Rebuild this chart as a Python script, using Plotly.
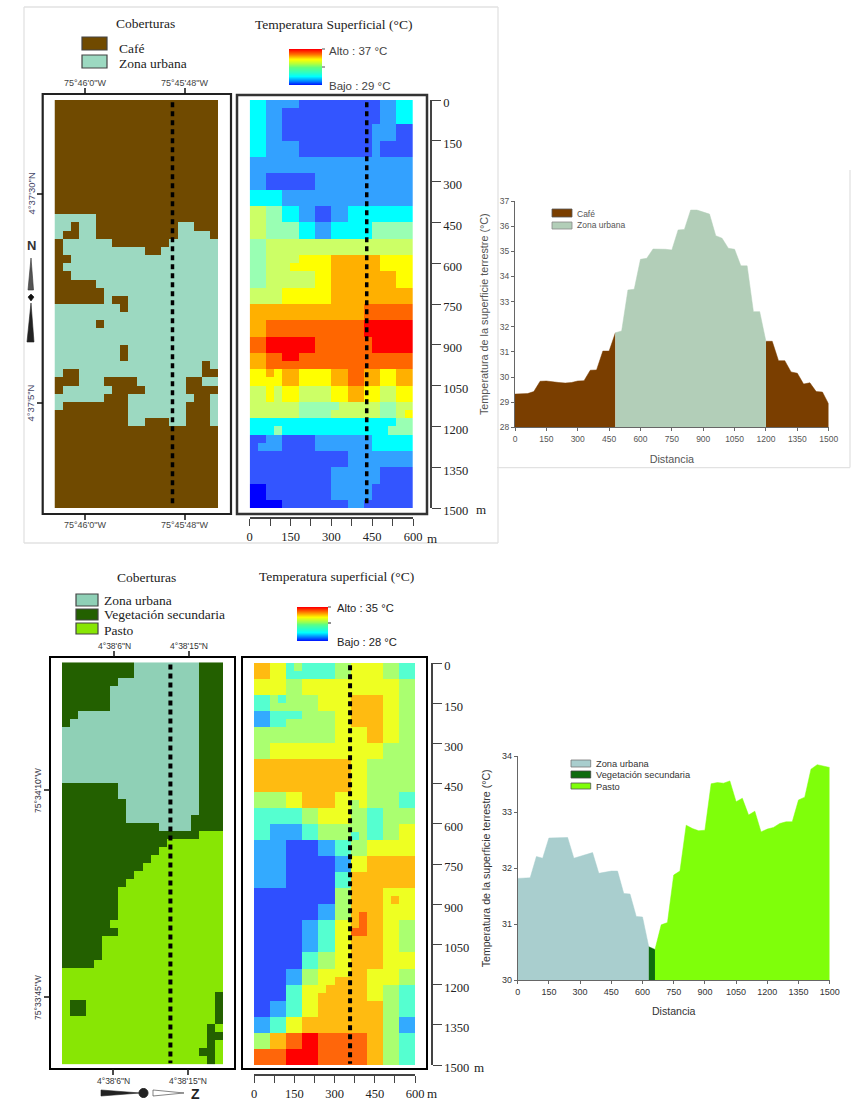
import plotly.graph_objects as go

W, H = 859, 1102
SERIF = "Liberation Serif"
SANS = "Liberation Sans"

def px(x): return x / W
def py(y): return 1 - y / H

# ---------- data: land-cover and temperature rasters, one string per 30 m row ----------
TOP_COVER = """
00000 00000 00000 00000|00000 00000 00000 00000|00000 00000 00000 00000|00000 00000 00000 00000
00000 00000 00000 00000|00000 00000 00000 00000|00000 00000 00000 00000|00000 00000 00000 00000
00000 00000 00000 00000|00000 00000 00000 00000|00000 00000 00000 00000|00000 00000 00000 00000
00000 00000 00000 00000|00000 00000 00000 00000
11111 00000 00000 00000|11011 00000 00000 11000|10011 00000 00000 11110|01111 11000 00001 11111
01111 11111 10011 11111|00111 11111 11111 11111|01111 11111 11111 11111|00111 11111 11111 11111
00000 11111 11111 11111|00000 01111 11111 11111|00000 01001 11111 11111|11111 11101 11111 11111
11111 11111 11111 11111|11111 01111 11111 11111|11111 11111 11111 11111|11111 11111 11111 11111
11111 11101 11111 11111|11111 11101 11111 11111|11111 11111 11111 11101|10011 11111 11111 11100
00011 10000 11111 10011|01111 11000 01111 10000|11111 10001 11111 11001|10000 00001 11111 10001
00000 00001 11111 10001|00000 00001 10001 10001
00000 00000 00000 00000|00000 00000 00000 00000|00000 00000 00000 00000|00000 00000 00000 00000
00000 00000 00000 00000|00000 00000 00000 00000|00000 00000 00000 00000|00000 00000 00000 00000
00000 00000 00000 00000|00000 00000 00000 00000
"""

TOP_TEMP = """
33222 21111 11111 12233|33221 11111 11111 12233|33221 11111 11111 12233|33221 11111 11111 22211
33221 11111 11111 22211|33222 21111 11111 21111|33222 21111 11111 21111|22222 22222 22222 22222
22222 22222 22222 22222|22111 11122 22222 22222|22111 11122 22222 22222|33332 22222 22222 22222
33332 22222 22222 22222|55443 32211 22333 33333|55443 32211 22333 33333|55444 43322 33333 44444
55444 43322 33333 44444|44555 55555 55555 55555|44555 55555 55555 55555|44555 56666 77777 76666
44555 66666 77777 76666|44555 55566 77777 77766|44555 55566 77777 77766|55556 66666 77777 77777
55556 66666 77777 77777|77777 77777 77778 88888|77777 77777 77778 88888|77888 88888 88889 99999
77888 88888 88889 99999|88999 99988 88888 99999|88999 99988 88888 99999|77889 98888 88888 88888
77888 88888 88888 88888|66767 76666 77887 76677|66667 76666 77887 76677|55656 65555 66776 65566
55656 65555 66776 65566|55555 54444 45555 54455|55555 54444 55555 54456|33333 33333 33333 33344
33343 33333 33333 33444|11221 11122 22222 33333|12221 11122 22222 33333|11111 11111 11222 22222
11111 11111 11222 22222|11111 11111 22222 21111|11111 11111 22222 21111|00111 11111 22222 11111
00111 11111 22222 11111|00001 11111 11221 11111
"""

BOT_COVER = """
11111 11110 00000 00111|11111 11110 00000 00111|11111 11000 00000 00111|11111 10000 00000 00111
11111 10000 00000 00111|11111 10000 00000 00111|11000 00000 00000 00111|10000 00000 00000 00111
00000 00000 00000 00111|00000 00000 00000 00111|00000 00000 00000 00111|00000 00000 00000 00111
00000 00000 00000 00111|00000 00000 00000 00111|00000 00000 00000 00111|11111 11000 00000 00111
11111 11000 00000 00111|11111 11100 00000 00111|11111 11100 00000 00111|11111 11100 00000 01111
11111 11111 11000 01111|11111 11111 11111 11222|11111 11111 11122 22222|11111 11111 11222 22222
11111 11111 12222 22222|11111 11111 22222 22222|11111 11112 22222 22222|11111 11122 22222 22222
11111 11222 22222 22222|11111 11222 22222 22222|11111 11222 22222 22222|11111 11222 22222 22222
11111 12222 22222 22222|11111 11222 22222 22222|11111 22222 22222 22222|11111 22222 22222 22222
11111 22222 22222 22222|11112 22222 22222 22222|22222 22222 22222 22222|22222 22222 22222 22222
22222 22222 22222 22222|22222 22222 22222 22221|21122 22222 22222 22221|21122 22222 22222 22221
22222 22222 22222 22221|22222 22222 22222 22212|22222 22222 22222 22211|22222 22222 22222 22212
22222 22222 22222 22112|22222 22222 22222 22212
"""

BOT_TEMP = """
55442 32222 33444 43322|55442 22222 33444 43322|44443 34444 44444 44433|44443 34444 44444 44433
22323 33344 44555 54433|22333 33344 44555 54433|11222 23333 44555 54433|11223 33333 44555 54433
33333 33333 44445 54433|33333 33333 44445 54433|33444 44444 44444 43333|33444 44444 44444 43333
55555 55555 55443 33333|55555 55555 55443 33333|55555 55555 55443 33333|55555 55555 55443 33333
33334 45555 44443 33322|33334 45555 44343 33322|22222 23344 44332 23333|22222 23344 44332 23333
22111 12233 33332 23344|22111 12233 33232 23344|11110 00011 22334 44444|11110 00011 22334 44444
11110 00000 11445 55555|11110 00000 11445 55555|11110 00000 22555 55555|11110 00000 22555 55555
00000 00000 33555 54444|00000 00000 33555 54544|00000 00011 33555 54444|00000 00011 33565 54444
00000 01122 44565 54433|00000 01122 44665 54433|00000 01122 44555 54433|00000 01122 44555 54433
00000 02233 44555 54444|00000 02233 44555 54444|00001 13344 44554 44433|00001 13344 55554 44433
00002 24445 55554 43322|00002 24455 55554 43322|00112 24455 55555 53322|00112 24455 55555 53322
11224 45555 55555 53311|11224 45555 55555 53311|33556 67766 66665 53322|33556 67766 66665 53322
66667 77766 66665 53322|66667 77766 66665 53322
"""

TOP_COVER_COLORS = ["#704a00", "#9cd9c1"]
TOP_TEMP_COLORS = ["#0000ff", "#3355ff", "#33a1ff", "#00ffff", "#99ffb3",
                   "#ccff66", "#ffff00", "#ffb000", "#ff6600", "#ff0000"]
BOT_COVER_COLORS = ["#8fd0b6", "#236000", "#88e604"]
BOT_TEMP_COLORS = ["#2f4fff", "#33aaff", "#55ffd0", "#aaff70",
                   "#eeff22", "#ffbb11", "#ff660a", "#ff0000"]

CELL_X = [15 + 30 * i for i in range(20)]
CELL_Y = [15 + 30 * i for i in range(50)]

# temperature profiles along the transect
T_CAFE1_X = [0, 30, 60, 90, 120, 150, 180, 210, 240, 270, 300, 330, 360, 390, 420, 450, 480]
T_CAFE1_Y = [29.32, 29.32, 29.34, 29.42, 29.83, 29.84, 29.8, 29.78, 29.76, 29.78, 29.84, 29.85, 30.27, 30.28, 31.03, 31.03, 31.76]
T_URB_X = [480, 510, 540, 570, 600, 630, 660, 690, 720, 750, 780, 810, 840, 870, 900, 930, 960, 990,
           1020, 1050, 1080, 1110, 1140, 1170, 1200]
T_URB_Y = [31.76, 31.83, 33.46, 33.49, 34.68, 34.72, 35.09, 35.09, 35.08, 35.05, 35.85, 35.87, 36.64, 36.64, 36.55, 36.48,
           35.62, 35.52, 35.12, 35.08, 34.42, 34.42, 32.6, 32.6, 31.41]
T_CAFE2_X = [1200, 1230, 1260, 1290, 1320, 1350, 1380, 1410, 1440, 1470, 1500]
T_CAFE2_Y = [31.42, 31.42, 30.65, 30.65, 30.2, 30.15, 29.72, 29.77, 29.42, 29.4, 28.92]

B_URB_X = [0, 30, 60, 90, 120, 150, 180, 210, 240, 270, 300, 330, 360, 390, 420, 450, 480, 510, 540, 570, 600, 630]
B_URB_Y = [31.82, 31.82, 31.83, 32.21, 32.18, 32.54, 32.54, 32.54, 32.55, 32.18, 32.21, 32.24, 32.28, 31.91, 31.93, 31.95,
           31.95, 31.55, 31.54, 31.14, 31.13, 30.6]
B_VEG_X = [630, 660]
B_VEG_Y = [30.6, 30.55]
B_PAS_X = [660, 690, 720, 750, 780, 810, 840, 870, 900, 930, 960, 990, 1020, 1050, 1080, 1110, 1140, 1170, 1200, 1230,
           1260, 1290, 1320, 1350, 1380, 1410, 1440, 1470, 1500]
B_PAS_Y = [30.55, 30.99, 31.03, 31.88, 31.95, 32.77, 32.71, 32.67, 32.68, 33.51, 33.53, 33.52, 33.56, 33.19, 33.25, 32.95,
           33.02, 32.65, 32.7, 32.73, 32.8, 32.83, 32.83, 33.22, 33.27, 33.77, 33.85, 33.83, 33.8]

TOP_LEVELS = [29, 30, 31, 32, 33, 34, 35, 36, 37]
BOT_LEVELS = [28, 29, 30, 31, 32, 33, 34, 35]
GRADIENT = [[0, "#0000ff"], [0.25, "#00ffff"], [0.5, "#60ff80"], [0.72, "#ffff00"], [1, "#ff0000"]]

DIST_TICKS = [0, 150, 300, 450, 600, 750, 900, 1050, 1200, 1350, 1500]
SCALE_TICKS = [0, 75, 150, 225, 300, 375, 450, 525, 600]
SCALE_TEXT = ["0", "", "150", "", "300", "", "450", "", "600"]
DEPTH_TICKS = DIST_TICKS


def grid(text):
    rows = text.strip().replace("\n", "|").replace(" ", "").split("|")
    out = [[int(c) for c in r] for r in rows]
    assert len(out) == 50 and all(len(r) == 20 for r in out), (len(out), [len(r) for r in out])
    return out


def steps(colors):
    n = len(colors)
    cs = []
    for i, c in enumerate(colors):
        cs += [[i / n, c], [(i + 1) / n, c]]
    return cs


fig = go.Figure()
shapes, notes = [], []


def note(x, y, text, size=12, font=SERIF, anchor="center", angle=0, color="#222222", bold=False):
    if anchor == "left":
        x -= 2
    notes.append(dict(x=px(x), y=py(y), xref="paper", yref="paper", text=f"<b>{text}</b>" if bold else text,
                      showarrow=False, xanchor=anchor, yanchor="middle", textangle=angle,
                      font=dict(family=font, size=size, color=color)))


def box(x0, y0, x1, y1, line="#111111", width=2, fill=None):
    shapes.append(dict(type="rect", xref="paper", yref="paper", x0=px(x0), x1=px(x1), y0=py(y0), y1=py(y1),
                       line=dict(color=line, width=width), fillcolor=fill, layer="above"))


def seg(x0, y0, x1, y1, color="#111111", width=1.5):
    shapes.append(dict(type="line", xref="paper", yref="paper", x0=px(x0), x1=px(x1), y0=py(y0), y1=py(y1),
                       line=dict(color=color, width=width), layer="above"))


def poly(points, fill="#111111", line="#111111"):
    d = "M " + " L ".join(f"{px(a):.5f} {py(b):.5f}" for a, b in points) + " Z"
    shapes.append(dict(type="path", path=d, xref="paper", yref="paper", fillcolor=fill,
                       line=dict(color=line, width=0.6), layer="above"))


layout = {}


def raster(idx, text, colors, x0, x1, y0, y1, line_x, name, dash_w):
    z = grid(text)
    xa, ya = f"x{idx}", f"y{idx}"
    fig.add_trace(go.Heatmap(x=CELL_X, y=CELL_Y, z=z, zmin=0, zmax=len(colors) - 1, colorscale=steps(colors),
                             showscale=False, xaxis=xa, yaxis=ya, name=name))
    fig.add_trace(go.Scatter(x=[line_x, line_x], y=[8, 1495], mode="lines", xaxis=xa, yaxis=ya, showlegend=False,
                             line=dict(color="#000000", width=dash_w, dash="5px,4px")))
    layout[f"xaxis{idx}"] = dict(domain=[px(x0), px(x1)], range=[0, 600], anchor=ya, visible=False)
    layout[f"yaxis{idx}"] = dict(domain=[py(y1), py(y0)], range=[1500, 0], anchor=xa, visible=False)


def scale_axes(idx, ruler_y, right_x):
    layout[f"xaxis{idx}"].update(visible=True, anchor="free", position=py(ruler_y), side="bottom", showline=True,
                                 linecolor="#444444", linewidth=1.5, ticks="outside", ticklen=7, tickwidth=1.2,
                                 tickcolor="#444444", tickvals=SCALE_TICKS, ticktext=SCALE_TEXT, showgrid=False,
                                 zeroline=False, tickangle=0, automargin=False,
                                 tickfont=dict(family=SERIF, size=12.5, color="#222222"))
    layout[f"yaxis{idx}"].update(visible=True, anchor="free", position=px(right_x), side="right", showline=True,
                                 linecolor="#444444", linewidth=1.5, ticks="outside", ticklen=9, tickwidth=1.2,
                                 tickcolor="#444444", tickvals=DEPTH_TICKS, showgrid=False, zeroline=False,
                                 automargin=False, ticklabelshift=-3,
                                 tickfont=dict(family=SERIF, size=12.5, color="#222222"))


def area(idx, xs, ys, color, name):
    fig.add_trace(go.Scatter(x=xs, y=ys, mode="lines", fill="tozeroy", fillcolor=color, name=name,
                             line=dict(color=color, width=0.5), xaxis=f"x{idx}", yaxis=f"y{idx}", showlegend=False))


def area_axes(idx, x0, x1, y0, y1, yr, ticks, fs, ts, color, standoff_y, standoff_x):
    base = dict(showline=True, linecolor="#666666", linewidth=1, ticks="outside", ticklen=3, tickcolor="#666666",
                showgrid=False, zeroline=False, automargin=False, tickfont=dict(family=SANS, size=fs, color=color))
    layout[f"xaxis{idx}"] = dict(base, domain=[px(x0), px(x1)], range=[0, 1500], anchor=f"y{idx}", tickvals=DIST_TICKS,
                                 tickangle=0,
                                 title=dict(text="Distancia", standoff=standoff_x,
                                            font=dict(family=SANS, size=ts, color=color)))
    layout[f"yaxis{idx}"] = dict(base, domain=[py(y1), py(y0)], range=yr, anchor=f"x{idx}", tickvals=ticks,
                                 title=dict(text="Temperatura de la superficie terrestre (°C)", standoff=standoff_y,
                                            font=dict(family=SANS, size=ts, color=color)))


def gradient(idx, levels, x0, x1, y0, y1):
    fig.add_trace(go.Heatmap(x=[0, 1], y=levels, z=[[v, v] for v in levels], colorscale=GRADIENT, showscale=False,
                             zsmooth="best", xaxis=f"x{idx}", yaxis=f"y{idx}"))
    layout[f"xaxis{idx}"] = dict(domain=[px(x0), px(x1)], anchor=f"y{idx}", visible=False)
    layout[f"yaxis{idx}"] = dict(domain=[py(y1), py(y0)], anchor=f"x{idx}", visible=False,
                                 range=[levels[0], levels[-1]])


# ---------- upper panels ----------
raster(1, TOP_COVER, TOP_COVER_COLORS, 54.5, 218, 100, 508, 433, "Coberturas", 3.5)
raster(2, TOP_TEMP, TOP_TEMP_COLORS, 249.7, 413, 100, 508, 430, "Temperatura", 3.5)
scale_axes(2, 518, 431)
area(3, T_CAFE1_X, T_CAFE1_Y, "#7a3e00", "Café")
area(3, T_CAFE2_X, T_CAFE2_Y, "#7a3e00", "Café")
area(3, T_URB_X, T_URB_Y, "#b2ceb8", "Zona urbana")
area_axes(3, 515, 828.7, 201, 427.3, [28, 37], [28, 29, 30, 31, 32, 33, 34, 35, 36, 37], 8.5, 10.8, "#555555", 9, 12)

# ---------- lower panels ----------
raster(4, BOT_COVER, BOT_COVER_COLORS, 62, 223, 662.3, 1064.5, 404, "Coberturas", 4)
raster(5, BOT_TEMP, BOT_TEMP_COLORS, 254, 415, 663, 1065, 358, "Temperatura", 4)
scale_axes(5, 1075, 432)
area(6, B_URB_X, B_URB_Y, "#a9cece", "Zona urbana")
area(6, B_VEG_X, B_VEG_Y, "#0e6b0e", "Vegetación secundaria")
area(6, B_PAS_X, B_PAS_Y, "#7fff0a", "Pasto")
area_axes(6, 517.7, 829.7, 756.3, 980.3, [30, 34], [30, 31, 32, 33, 34], 9, 10.6, "#333333", 9, 11)

gradient(7, TOP_LEVELS, 289, 322, 49, 85)
gradient(8, BOT_LEVELS, 297, 328, 607, 641)

# ---------- frames ----------
box(42.7, 94, 231, 514, "#222222", 2.2)
box(237, 95, 427, 514, "#333333", 2.5)
box(50, 657, 235, 1069, "#000000", 2)
box(242, 657, 427, 1069, "#000000", 2)

for a in [(24, 7, 498, 7), (498, 7, 498, 543), (24, 543, 498, 543), (24, 7, 24, 543),
          (497, 467.6, 850, 467.6), (850, 170, 850, 467.6)]:
    seg(*a, color="#e2e2e2", width=1.3)

# ---------- upper titles and legends ----------
note(145, 23, "Coberturas", 13.5)
note(333, 25, "Temperatura Superficial (°C)", 13.5)
box(82, 37, 107, 50, "#444444", 1.2, "#704a00")
box(82, 55, 107, 68, "#444444", 1.2, "#9cd9c1")
note(119, 48, "Café", 13.5, anchor="left")
note(119, 63, "Zona urbana", 13.5, anchor="left")
note(329, 51, "Alto : 37 °C", 11.5, SANS, "left", color="#444444")
note(329, 86, "Bajo : 29 °C", 11.5, SANS, "left", color="#444444")
seg(322, 49, 325, 49, "#555555", 1)
seg(322, 67, 325, 67, "#555555", 1)

for x, t in [(85, "75°46'0\"W"), (185, "75°45'48\"W")]:
    note(x, 83, t, 9, SANS, color="#444444")
    seg(x, 88, x, 94)
    note(x, 525, t, 9, SANS, color="#444444")
    seg(x, 514, x, 520)
for y, t in [(194, "4°37'30\"N"), (403, "4°37'5\"N")]:
    note(30.5, y, t, 9.5, SANS, angle=-90, color="#444466")
    seg(37, y, 43, y)

note(31, 246, "N", 13, SANS, bold=True, color="#333333")
poly([(31, 258), (28, 290), (33.5, 290)], "#555555", "#333333")
poly([(31, 303), (27, 342), (34, 342)], "#222222", "#222222")
poly([(28, 297), (31, 294), (34, 297), (31, 301)], "#111111", "#111111")

note(481, 510, "m", 13, anchor="center")
note(432, 538, "m", 13, anchor="center")

# ---------- upper profile legend ----------
box(552, 209, 572, 217, "#555555", 0.8, "#7a3e00")
box(552, 222, 572, 229, "#888888", 0.8, "#b2ceb8")
note(577, 213.5, "Café", 8.5, SANS, "left", color="#555555")
note(577, 225.5, "Zona urbana", 8.5, SANS, "left", color="#555555")

# ---------- lower titles and legends ----------
note(146, 577, "Coberturas", 13.5)
note(336, 576, "Temperatura superficial (°C)", 13.5)
box(76, 594, 98, 606, "#444444", 1.2, "#8fd0b6")
box(76, 609, 98, 620, "#444444", 1.2, "#236000")
box(76, 623, 98, 634, "#444444", 1.2, "#88e604")
note(104, 600, "Zona urbana", 13.5, anchor="left")
note(104, 614.5, "Vegetación secundaria", 13.5, anchor="left")
note(104, 630, "Pasto", 13.5, anchor="left")
note(337, 608, "Alto : 35 °C", 11.2, SANS, "left")
note(337, 642, "Bajo : 28 °C", 11.2, SANS, "left")
seg(328, 607, 331, 607, "#555555", 1)
seg(328, 623, 331, 623, "#222222", 1)

for x, t in [(114, "4°38'6\"N"), (189, "4°38'15\"N")]:
    note(x, 646, t, 8.5, SANS, color="#333333")
    seg(x, 651, x, 657)
    note(x - 1, 1081, t, 8.5, SANS, color="#333333")
    seg(x - 1, 1069, x - 1, 1075)
for y, t in [(790, "75°34'10\"W"), (997, "75°33'45\"W")]:
    note(38, y, t, 8.6, SANS, angle=-90, color="#333344")
    seg(44, y, 50, y)

poly([(101, 1090), (140, 1093), (101, 1096)], "#222222", "#222222")
poly([(153, 1090), (184, 1093), (153, 1096)], "#ffffff", "#333333")
shapes.append(dict(type="circle", xref="paper", yref="paper", x0=px(139), x1=px(148), y0=py(1097.5), y1=py(1088.5),
                   fillcolor="#222222", line=dict(color="#222222", width=1), layer="above"))
note(195, 1094, "Z", 14, SANS, bold=True, color="#222222")

note(479, 1067, "m", 13, anchor="center")
note(432, 1093, "m", 13, anchor="center")

# ---------- lower profile legend ----------
box(571, 760, 590.7, 767, "#777777", 0.8, "#a9cece")
box(571, 771, 590.7, 778, "#444444", 0.8, "#0e6b0e")
box(571, 783, 590.7, 789, "#555555", 0.8, "#7fff0a")
note(596, 763.5, "Zona urbana", 9.3, SANS, "left", color="#333333")
note(596, 775, "Vegetación secundaria", 9.3, SANS, "left", color="#333333")
note(596, 786.5, "Pasto", 9.3, SANS, "left", color="#333333")

fig.update_layout(width=W, height=H, autosize=False, margin=dict(l=0, r=0, t=0, b=0, pad=0), showlegend=False,
                  plot_bgcolor="rgba(0,0,0,0)", paper_bgcolor="#ffffff", shapes=shapes, annotations=notes, **layout)

fig.write_html("out.html", config={"displayModeBar": False},
               post_script="document.body.style.margin='0';document.documentElement.style.overflow='hidden';")
